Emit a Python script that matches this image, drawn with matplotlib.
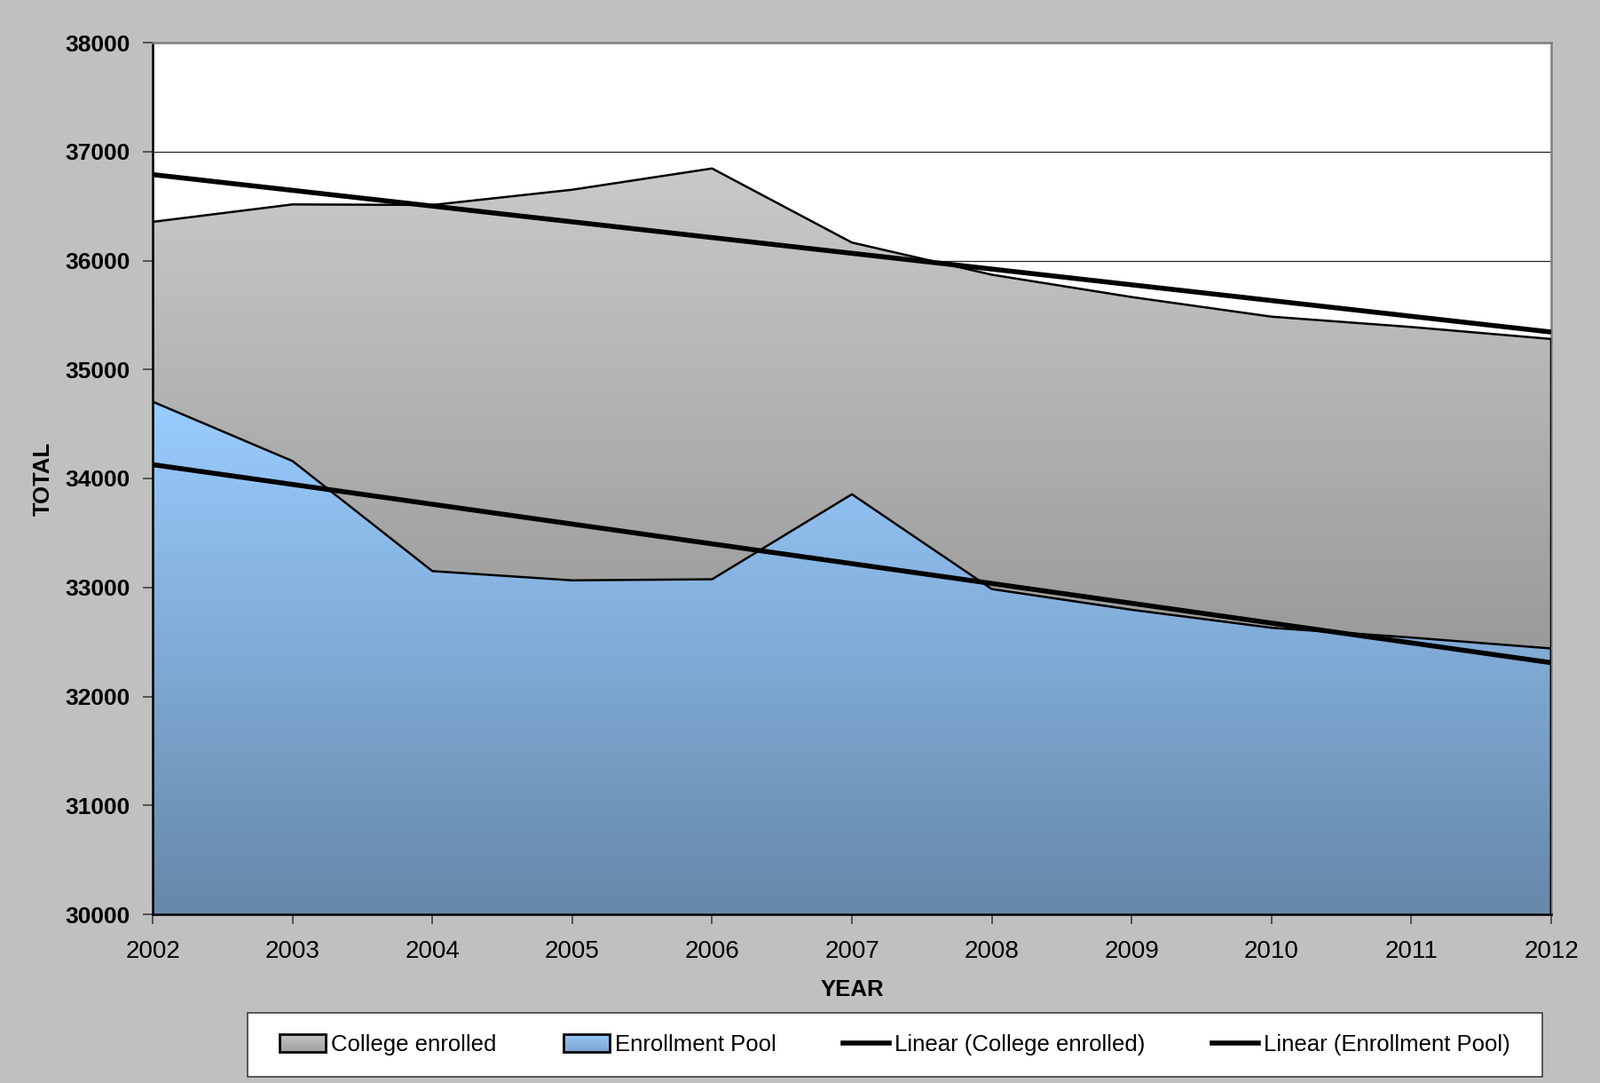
import numpy as np
import matplotlib
matplotlib.use("Agg")
import matplotlib.pyplot as plt
from matplotlib.patches import Rectangle
from matplotlib.lines import Line2D
from matplotlib.legend_handler import HandlerBase
from matplotlib.colors import LinearSegmentedColormap

plt.rcParams['font.family'] = ['Liberation Sans', 'DejaVu Sans']

# data
years = [2002, 2003, 2004, 2005, 2006, 2007, 2008, 2009, 2010, 2011, 2012]
college_enrolled = [36355, 36515, 36510, 36650, 36845, 36165, 35870, 35665, 35485, 35390, 35280]
enrollment_pool = [34705, 34160, 33150, 33065, 33075, 33855, 32985, 32795, 32630, 32540, 32440]
y_ticks = [30000, 31000, 32000, 33000, 34000, 35000, 36000, 37000, 38000]

gray_cmap = LinearSegmentedColormap.from_list("g", ["#c9c9c9", "#808080"])
blue_cmap = LinearSegmentedColormap.from_list("b", ["#99ccff", "#6688aa"])


class GradientHandler(HandlerBase):
    def __init__(self, cmap):
        super().__init__()
        self.cmap = cmap

    def create_artists(self, legend, orig_handle, xdescent, ydescent,
                       width, height, fontsize, trans):
        arts = []
        n = 12
        for i in range(n):
            r = Rectangle((-xdescent, -ydescent + height * (n - 1 - i) / n), width, height / n,
                          facecolor=self.cmap(0.1 + 0.5 * i / n), edgecolor='none', transform=trans)
            arts.append(r)
        arts.append(Rectangle((-xdescent, -ydescent), width, height, facecolor='none',
                              edgecolor='black', lw=2, transform=trans))
        return arts


def gradient_area(ax, x, y, cmap, base=30000):
    poly = ax.fill_between(x, base, y, facecolor='none', edgecolor='none')
    grad = np.linspace(0, 1, 256).reshape(-1, 1)
    im = ax.imshow(grad, cmap=cmap, aspect='auto', origin='upper',
                   extent=[x[0], x[-1], base, max(y)], interpolation='bilinear', zorder=2)
    path = poly.get_paths()[0]
    im.set_clip_path(path, transform=ax.transData)
    ax.plot(list(x) + [x[-1]], list(y) + [base], color='black', lw=1.8, zorder=3)
    return poly


fig = plt.figure(figsize=(18.03, 12.2), dpi=100, facecolor='#c0c0c0')
ax = fig.add_axes([172 / 1803, 190 / 1220, 1576 / 1803, 982 / 1220])
ax.set_facecolor('white')

gradient_area(ax, years, college_enrolled, gray_cmap)
gradient_area(ax, years, enrollment_pool, blue_cmap)

x = np.array(years)
c1 = np.polyfit(x, college_enrolled, 1)
c2 = np.polyfit(x, enrollment_pool, 1)
ax.plot(x, np.polyval(c1, x), color='black', lw=4, zorder=4, solid_capstyle='butt')
ax.plot(x, np.polyval(c2, x), color='black', lw=4, zorder=4, solid_capstyle='butt')

ax.set_xlim(2002, 2012)
ax.set_ylim(30000, 38000)
ax.set_xticks(years)
ax.set_xticklabels([str(y) for y in years], fontsize=20)
ax.set_yticks(y_ticks)
ax.set_yticklabels([str(v) for v in y_ticks], fontsize=19, fontweight='bold')
ax.tick_params(axis='both', direction='out', length=8, width=1.2, color='#404040')
ax.tick_params(axis='x', pad=13)
ax.tick_params(axis='y', pad=10)
ax.yaxis.grid(True, color='#222222', lw=0.9, zorder=0)
ax.set_axisbelow(True)

for s in ['left', 'bottom']:
    ax.spines[s].set_color('black')
    ax.spines[s].set_linewidth(1.8)
for s in ['top', 'right']:
    ax.spines[s].set_color('#808080')
    ax.spines[s].set_linewidth(1.8)

ax.set_ylabel('TOTAL', fontsize=18.5, fontweight='bold', labelpad=9)
ax.set_xlabel('YEAR', fontsize=18.5, fontweight='bold', labelpad=13)

# legend box drawn separately so it has the reference width
fig.patches.append(Rectangle((279 / 1803, 7 / 1220), 1459 / 1803, 72 / 1220,
                             transform=fig.transFigure, facecolor='white',
                             edgecolor='#404040', lw=1.2, zorder=1))

h1 = Rectangle((0, 0), 1, 1)
h2 = Rectangle((0, 0), 1, 1, label='b')
h3 = Line2D([], [], color='black', lw=4)
h4 = Line2D([], [], color='black', lw=4)
leg = fig.legend([h1, h2, h3, h4],
                 ['College enrolled', 'Enrollment Pool', 'Linear (College enrolled)', 'Linear (Enrollment Pool)'],
                 handler_map={h1: GradientHandler(gray_cmap), h2: GradientHandler(blue_cmap)},
                 ncol=4, loc='center', bbox_to_anchor=(0.5594, 0.0352),
                 fontsize=18.5, frameon=False,
                 handlelength=2.0, handleheight=0.8,
                 handletextpad=0.25, columnspacing=2.95, borderpad=0.9)
leg.set_zorder(5)

fig.savefig('out.png', dpi=100, facecolor=fig.get_facecolor())
